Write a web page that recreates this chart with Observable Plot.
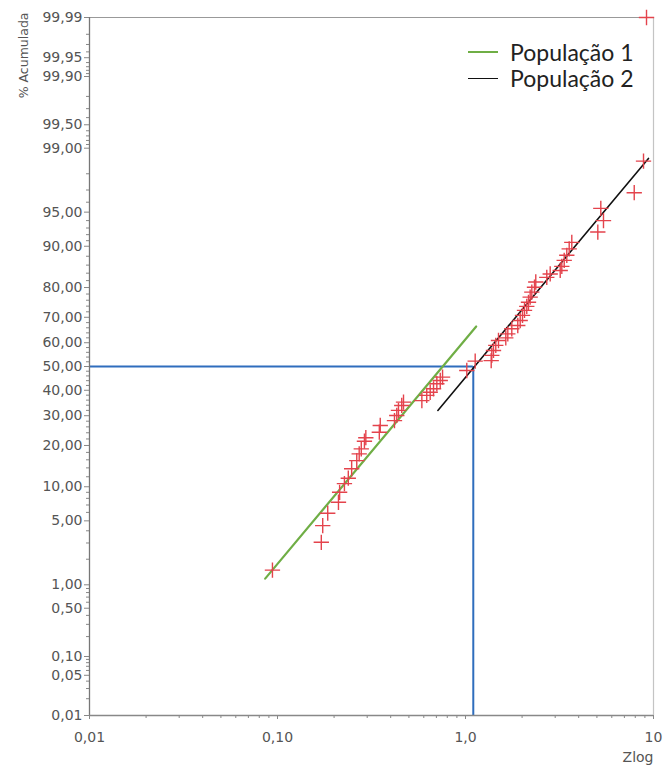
<!DOCTYPE html>
<html>
<head>
<meta charset="utf-8">
<script src="https://cdn.jsdelivr.net/npm/d3@7"></script>
<script src="https://cdn.jsdelivr.net/npm/@observablehq/plot@0.6"></script>
<style>
  body { margin: 0; background: #fff; }
  #chart { position: relative; width: 664px; height: 771px; }
  #chart svg text { font-family: "DejaVu Sans", sans-serif; }
  .legend { position: absolute; left: 468px; top: 39px; font-family: Lato, "Open Sans", sans-serif; font-size: 23px; color: #222; line-height: 26px; }
  .legend .row { display: flex; align-items: center; white-space: nowrap; }
  .legend .swatch { display: inline-block; width: 30px; margin-right: 12px; }
</style>
</head>
<body>
<div id="chart"></div>
<script>
// Cumulative frequency plot of Zlog (log axis) against % acumulada (probability axis)

// População 1 — sample points
const pop1Zlog = [0.094, 0.171, 0.174, 0.185, 0.211, 0.214, 0.227, 0.238, 0.248, 0.264, 0.272, 0.279, 0.290, 0.295,
                  0.348, 0.352, 0.419, 0.431, 0.440, 0.458, 0.468, 0.586, 0.622, 0.649, 0.676, 0.704, 0.734, 0.755];
const pop1Pct  = [1.5, 3.05, 4.5, 5.9, 7.4, 9.0, 10.6, 11.7, 13.8, 15.8, 17.6, 19.0, 21.3, 22.4,
                  24.2, 26.5, 28.2, 30.1, 32.0, 33.9, 35.2, 35.8, 37.9, 39.2, 40.6, 42.7, 44.1, 45.5];

// População 2 — sample points
const pop2Zlog = [1.016, 1.126, 1.370, 1.380, 1.409, 1.449, 1.498, 1.638, 1.679, 1.763, 1.897, 1.954, 2.010, 2.060,
                  2.118, 2.163, 2.208, 2.253, 2.328, 2.365, 2.706, 2.822, 3.190, 3.253, 3.350, 3.458, 3.561, 3.676,
                  5.056, 5.420, 5.245, 7.898, 8.849, 9.18];
const pop2Pct  = [48.3, 52.3, 52.5, 54.7, 56.8, 58.9, 60.9, 62.0, 63.6, 65.6, 66.9, 68.8, 70.7, 72.5,
                  73.9, 75.3, 77.0, 78.6, 80.1, 81.6, 82.9, 83.8, 84.7, 85.7, 87.1, 88.2, 89.5, 90.7,
                  92.4, 94.0, 95.4, 96.8, 98.57, 99.99];

// Fitted lines (end points)
const fit1Zlog = [0.086, 1.14];
const fit1Pct  = [1.19, 66.5];
const fit2Zlog = [0.713, 9.4];
const fit2Pct  = [32.0, 98.67];

// Median reference (50 %)
const medianZlog = 1.1;
const medianPct = 50;

// Axis ticks
const yTickPct    = [0.01, 0.05, 0.1, 0.5, 1, 5, 10, 20, 30, 40, 50, 60, 70, 80, 90, 95, 99, 99.5, 99.9, 99.95, 99.99];
const yTickLabels = ["0,01", "0,05", "0,10", "0,50", "1,00", "5,00", "10,00", "20,00", "30,00", "40,00", "50,00",
                     "60,00", "70,00", "80,00", "90,00", "95,00", "99,00", "99,50", "99,90", "99,95", "99,99"];
const yMinorPct   = [0.02, 0.03, 0.04, 0.06, 0.07, 0.08, 0.09, 0.2, 0.3, 0.4, 0.6, 0.7, 0.8, 0.9, 2, 3, 4, 6, 7, 8, 9,
                     12, 14, 16, 18, 22, 24, 26, 28, 32, 34, 36, 38, 42, 44, 46, 48, 52, 54, 56, 58, 62, 64, 66, 68,
                     72, 74, 76, 78, 82, 84, 86, 88, 91, 92, 93, 94, 96, 97, 98, 99.1, 99.2, 99.3, 99.4, 99.6, 99.7,
                     99.8, 99.91, 99.92, 99.93, 99.94, 99.96, 99.97, 99.98];
const xTicks      = [0.01, 0.1, 1, 10];
const xTickLabels = ["0,01", "0,10", "1,0", "10"];
const xMinor      = [2, 3, 4, 5, 6, 7, 8, 9].flatMap(k => [0.01 * k, 0.1 * k, k]);

// Inverse of the standard normal CDF (Acklam's rational approximation)
function qnorm(p) {
  const a = [-3.969683028665376e+01, 2.209460984245205e+02, -2.759285104469687e+02, 1.383577518672690e+02, -3.066479806614716e+01, 2.506628277459239e+00];
  const b = [-5.447609879822406e+01, 1.615858368580409e+02, -1.556989798598866e+02, 6.680131188771972e+01, -1.328068155288572e+01];
  const c = [-7.784894002430293e-03, -3.223964580411365e-01, -2.400758277161838e+00, -2.549732539343734e+00, 4.374664141464968e+00, 2.938163982698783e+00];
  const d = [7.784695709041462e-03, 3.224671290700398e-01, 2.445134137142996e+00, 3.754408661907416e+00];
  const plow = 0.02425, phigh = 1 - plow;
  if (p < plow) {
    const q = Math.sqrt(-2 * Math.log(p));
    return (((((c[0] * q + c[1]) * q + c[2]) * q + c[3]) * q + c[4]) * q + c[5]) / ((((d[0] * q + d[1]) * q + d[2]) * q + d[3]) * q + 1);
  }
  if (p <= phigh) {
    const q = p - 0.5, r = q * q;
    return (((((a[0] * r + a[1]) * r + a[2]) * r + a[3]) * r + a[4]) * r + a[5]) * q / (((((b[0] * r + b[1]) * r + b[2]) * r + b[3]) * r + b[4]) * r + 1);
  }
  const q = Math.sqrt(-2 * Math.log(1 - p));
  return -(((((c[0] * q + c[1]) * q + c[2]) * q + c[3]) * q + c[4]) * q + c[5]) / ((((d[0] * q + d[1]) * q + d[2]) * q + d[3]) * q + 1);
}
const probit = pct => qnorm(pct / 100);

const pts1 = pop1Zlog.map((x, i) => ({x, z: probit(pop1Pct[i])}));
const pts2 = pop2Zlog.map((x, i) => ({x, z: probit(pop2Pct[i])}));
const line1 = fit1Zlog.map((x, i) => ({x, z: probit(fit1Pct[i])}));
const line2 = fit2Zlog.map((x, i) => ({x, z: probit(fit2Pct[i])}));
const yLabelOf = new Map(yTickPct.map((p, i) => [probit(p), yTickLabels[i]]));
const xLabelOf = new Map(xTicks.map((v, i) => [v, xTickLabels[i]]));

const zMin = probit(yTickPct[0]);
const zMax = probit(yTickPct[yTickPct.length - 1]);
const xMin = xTicks[0];
const xMax = xTicks[xTicks.length - 1];

const red = "#e4434c";
const blue = "#2f6dbd";
const green = "#6fae45";
const font = "DejaVu Sans";

const chart = Plot.plot({
  width: 664,
  height: 771,
  marginLeft: 89,
  marginRight: 11,
  marginTop: 17,
  marginBottom: 56,
  style: {fontFamily: font, fontSize: "14px", background: "#fff"},
  x: {type: "log", domain: [xMin, xMax], axis: null},
  y: {type: "linear", domain: [zMin, zMax], axis: null},
  marks: [
    // frame: top and right borders
    Plot.ruleY([zMax], {stroke: "#999", strokeWidth: 1.2}),
    Plot.ruleX([xMax], {stroke: "#c4c4c4", strokeWidth: 1.2}),

    // median guides
    Plot.ruleY([probit(medianPct)], {x1: xMin, x2: medianZlog, stroke: blue, strokeWidth: 2}),
    Plot.ruleX([medianZlog], {y1: zMin, y2: probit(medianPct), stroke: blue, strokeWidth: 2}),

    // axes
    Plot.axisY(yMinorPct.map(probit), {tickSize: 3, tickFormat: () => "", label: null, stroke: "#888"}),
    Plot.axisY(yTickPct.map(probit), {tickSize: 5, tickPadding: 2, tickFormat: z => yLabelOf.get(z), label: null,
                                      stroke: "#888", fill: "#555", fontFamily: font, fontSize: 14}),
    Plot.axisX(xMinor, {tickSize: 3, tickFormat: () => "", label: null, stroke: "#888"}),
    Plot.axisX(xTicks, {tickSize: 4, tickPadding: 13, tickFormat: v => xLabelOf.get(v), label: null,
                        stroke: "#888", fill: "#555", fontFamily: font, fontSize: 14}),
    Plot.ruleX([xMin], {stroke: "#777", strokeWidth: 1.3}),
    Plot.ruleY([zMin], {stroke: "#888", strokeWidth: 1.3}),

    // fitted lines
    Plot.line(line1, {x: "x", y: "z", stroke: green, strokeWidth: 2.2}),
    Plot.line(line2, {x: "x", y: "z", stroke: "#111", strokeWidth: 1.6}),

    // sample points
    Plot.dot(pts1, {x: "x", y: "z", symbol: "plus", r: 5, stroke: red, strokeWidth: 1.4}),
    Plot.dot(pts2, {x: "x", y: "z", symbol: "plus", r: 5, stroke: red, strokeWidth: 1.4}),

    // axis titles
    Plot.text(["Zlog"], {text: d => d, frameAnchor: "bottom-right", textAnchor: "end", dy: 46, fill: "#555",
                         fontFamily: font, fontSize: 14}),
    Plot.text(["% Acumulada"], {text: d => d, frameAnchor: "top-left", rotate: -90, textAnchor: "end", dx: -70, dy: -5,
                                fill: "#555", fontFamily: font, fontSize: 12.5})
  ]
});

const host = document.getElementById("chart");
host.appendChild(chart);

// legend
const legend = document.createElement("div");
legend.className = "legend";
[["População 1", green, 2.5], ["População 2", "#111", 1.6]].forEach(([name, color, w]) => {
  const row = document.createElement("div");
  row.className = "row";
  const sw = document.createElement("span");
  sw.className = "swatch";
  sw.style.borderTop = `${w}px solid ${color}`;
  const label = document.createElement("span");
  label.textContent = name;
  row.append(sw, label);
  legend.appendChild(row);
});
host.appendChild(legend);
</script>
</body>
</html>
